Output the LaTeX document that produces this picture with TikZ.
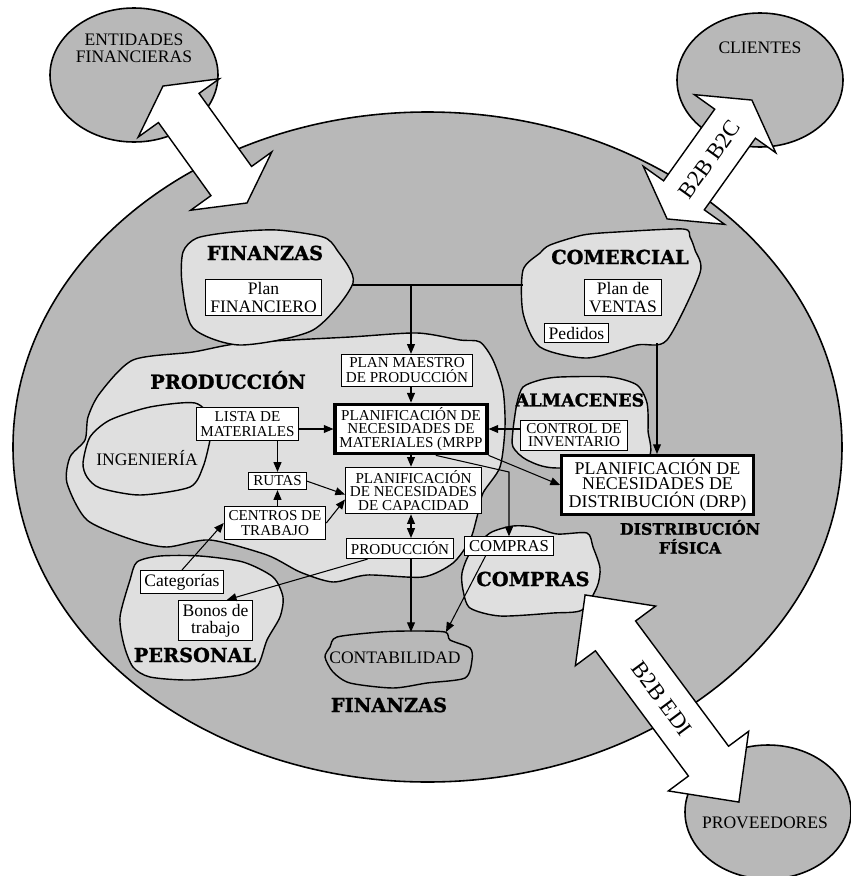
\documentclass[tikz,border=0pt]{standalone}
\usepackage{fontspec}
\setmainfont{Liberation Serif}
\newfontfamily\headfont{DejaVu Serif}[BoldFeatures={FakeBold=1.3}]
\usepackage{xcolor}
\usepackage{tikz}
\usetikzlibrary{arrows.meta,positioning,calc}

\definecolor{zonegray}{gray}{0.72}
\definecolor{areagray}{gray}{0.875}

% wide white double arrow: centre, angle, half length, head length
\newcommand{\bigdarrow}[4]{%
  \draw[bigarrow, shift={#1}, rotate=#2]
    (-#3,0) -- (-#3+#4,50) -- (-#3+#4,25) -- (#3-#4,25) -- (#3-#4,50) -- (#3,0)
    -- (#3-#4,-50) -- (#3-#4,-25) -- (-#3+#4,-25) -- (-#3+#4,-50) -- cycle;}

\begin{document}
\begin{tikzpicture}[
    x=0.02cm, y=-0.02cm,
    zone/.style={draw, line width=0.9pt, fill=zonegray},
    area/.style={draw, line width=0.8pt, fill=areagray},
    bigarrow/.style={draw, line width=0.8pt, fill=white, line join=miter},
    box/.style={rectangle, draw, line width=0.6pt, fill=white, inner xsep=2.5pt, inner ysep=2pt, align=center},
    thickbox/.style={box, line width=1.8pt},
    txt/.style={font=\fontsize{10}{9.8}\selectfont, align=center},
    small/.style={font=\fontsize{8.6}{8.6}\selectfont},
    tight/.style={font=\fontsize{8.6}{7.5}\selectfont},
    zonetitle/.style={font=\headfont\bfseries\fontsize{11}{11}\selectfont, align=center},
    arrow/.style={-{Triangle[length=5.5pt,width=4.5pt]}, line width=0.6pt},
    dblarrow/.style={{Triangle[length=5.5pt,width=4.5pt]}-{Triangle[length=5.5pt,width=4.5pt]}, line width=0.6pt}
]
\useasboundingbox (0,0) rectangle (850,876);

% Company and partners
\draw[zone] (427.5,447) ellipse [x radius=414.5, y radius=335];
\draw[zone] (134,75) ellipse [x radius=84, y radius=67];
\draw[zone] (760,80) ellipse [x radius=83, y radius=67];
\draw[zone] (768,812) ellipse [x radius=83, y radius=67];

% Areas
\draw[area] plot[smooth cycle, tension=0.45] coordinates {(133,360) (193,352) (243,343) (350,337) (417,333) (460,340) (480,342) (493,360) (503,390) (505,427) (500,467) (483,493) (477,517) (470,540) (453,563) (423,577) (367,575) (333,582) (300,572) (267,555) (210,540) (167,547) (133,540) (87,520) (67,483) (70,457) (85,440) (88,417) (100,393)};
\draw[area] plot[smooth cycle, tension=0.45] coordinates {(83,463) (90,437) (110,420) (150,407) (195,403) (212,420) (210,440) (203,467) (190,487) (140,495) (100,488) (87,477)};
\draw[area] plot[smooth cycle, tension=0.45] coordinates {(183,252) (197,238) (233,232) (277,230) (323,237) (337,250) (353,283) (313,330) (240,345) (193,328) (182,283)};
\draw[area] plot[smooth cycle, tension=0.45] coordinates {(523,270) (540,253) (550,245) (583,235) (617,232) (683,229) (690,237) (695,250) (700,273) (667,340) (637,345) (587,358) (540,347) (523,313)};
\draw[area] plot[smooth cycle, tension=0.45] coordinates {(517,403) (523,387) (540,380) (560,377) (610,377) (637,385) (647,403) (648,430) (645,460) (557,468) (527,460) (513,447) (513,430)};
\draw[area] plot[smooth cycle, tension=0.45] coordinates {(462,573) (470,553) (490,533) (513,526) (533,527) (557,534) (587,533) (593,547) (600,568) (597,587) (582,610) (553,613) (500,616) (470,608) (463,590)};
\draw[area] plot[smooth cycle, tension=0.45] coordinates {(130,580) (137,562) (160,556) (200,556) (243,562) (273,577) (283,597) (280,617) (267,640) (258,665) (240,675) (190,680) (150,677) (133,667) (124,645) (120,617)};
\draw[line width=0.8pt] plot[smooth cycle, tension=0.45] coordinates {(337,637) (380,632) (410,631) (445,632) (450,640) (470,648) (472,660) (465,678) (427,683) (393,688) (350,683) (333,672) (325,657) (330,647)};

% Exchanges with the outside
\bigdarrow{(205,144.5)}{-54.3}{72}{27}
\bigdarrow{(709.5,159.5)}{54.5}{73}{29}
\bigdarrow{(662,698.5)}{-53.4}{129}{51}
\node[rotate=54.5, font=\fontsize{13}{13}\selectfont] (b2c) at (709.5,159.5) {B2B B2C};
\node[rotate=-53.4, font=\fontsize{13}{13}\selectfont] (edi) at (662,698.5) {B2B EDI};

\node[txt] (entidades) at (134,48) {ENTIDADES\\FINANCIERAS};
\node[txt] (clientes) at (760,48) {CLIENTES};
\node[txt] (proveedores) at (765,823) {PROVEEDORES};

% Area titles
\node[zonetitle] (tfin) at (265,253) {FINANZAS};
\node[zonetitle] (tcom) at (620,257) {COMERCIAL};
\node[zonetitle] (tprod) at (228,380) {PRODUCCIÓN};
\node[zonetitle, font=\headfont\bfseries\fontsize{10}{10}\selectfont] (talm) at (580,400) {ALMACENES};
\node[txt] (ting) at (147,458) {INGENIERÍA};
\node[zonetitle, font=\headfont\bfseries\fontsize{9}{10.8}\selectfont] (tdist) at (690,537) {DISTRIBUCIÓN\\FÍSICA};
\node[zonetitle] (tcomp) at (533,579) {COMPRAS};
\node[zonetitle] (tpers) at (195,655) {PERSONAL};
\node[txt] (tcont) at (395,658) {CONTABILIDAD};
\node[zonetitle] (tfin2) at (389,705) {FINANZAS};

% Documents
\node[box, txt] (planfin) at (263.5,297.5) {Plan\\FINANCIERO};
\node[box, txt] (planvent) at (623,297.5) {Plan de\\VENTAS};
\node[box, txt] (pedidos) at (576.5,333) {Pedidos};
\node[box, small] (maestro) at (407,370.5) {PLAN MAESTRO\\DE PRODUCCIÓN};
\node[thickbox, tight] (mrp) at (411,429) {PLANIFICACIÓN DE\\NECESIDADES DE\\MATERIALES (MRPP};
\node[box, small] (lista) at (247.5,424) {LISTA DE\\MATERIALES};
\node[box, tight, inner xsep=3.5pt] (control) at (574,435.5) {CONTROL DE\\INVENTARIO};
\node[thickbox, font=\fontsize{10.2}{8.8}\selectfont, inner xsep=4pt] (drp) at (657.5,485) {PLANIFICACIÓN DE\\NECESIDADES DE\\DISTRIBUCIÓN (DRP)};
\node[box, small] (rutas) at (277.5,481) {RUTAS};
\node[box, small] (centros) at (275,523) {CENTROS DE\\TRABAJO};
\node[box, tight] (capac) at (413.5,490.5) {PLANIFICACIÓN\\DE NECESIDADES\\DE CAPACIDAD};
\node[box, small] (prodbox) at (400,548.5) {PRODUCCIÓN};
\node[box, font=\fontsize{9.5}{9.5}\selectfont] (compbox) at (509,546) {COMPRAS};
\node[box, txt] (categ) at (182,582) {Categorías};
\node[box, txt] (bonos) at (215.5,620.5) {Bonos de\\trabajo};

% Connectors
\coordinate (finE) at (353,285);
\coordinate (comW) at (523,285);
\coordinate (comS) at (657,343);
\coordinate (bend) at (509,472);
\coordinate (contN) at (411,632);
\coordinate (contNE) at (446,632);

\draw[line width=0.6pt] (finE) -- (comW);
\draw[arrow] (finE -| mrp.north) -- (maestro.north -| mrp.north);
\draw[arrow] (maestro.south -| mrp.north) -- (mrp.north);
\draw[arrow] (lista.east |- mrp.west) -- (mrp.west);
\draw[arrow] (control.west |- mrp.east) -- (mrp.east);
\draw[arrow] (comS) -- (comS |- drp.north);
\draw[arrow] (mrp.south east) -- (drp.west);
\draw[arrow] ($(mrp.south)!0.32!(mrp.south east)$) -- (bend) -- (compbox.north);
\draw[arrow] (mrp.south) -- (mrp.south |- capac.north);
\draw[arrow] (lista.south -| rutas.north) -- (rutas.north);
\draw[arrow] (centros.north -| rutas.south) -- (rutas.south);
\draw[arrow] (rutas.east) -- ($(capac.west)+(0,4)$);
\draw[arrow] (centros.east) -- ($(capac.west)+(0,9)$);
\draw[arrow] (categ.north) -- (centros.west);
\draw[dblarrow] (capac.south -| mrp.south) -- (prodbox.north -| mrp.south);
\draw[arrow] ($(prodbox.south west)!0.4!(prodbox.south)$) -- ($(bonos.north west)!0.65!(bonos.north east)$);
\draw[arrow] (prodbox.south -| mrp.south) -- (contN);
\draw[arrow] ($(compbox.south west)!0.24!(compbox.south east)$) -- (contNE);

\end{tikzpicture}
\end{document}
